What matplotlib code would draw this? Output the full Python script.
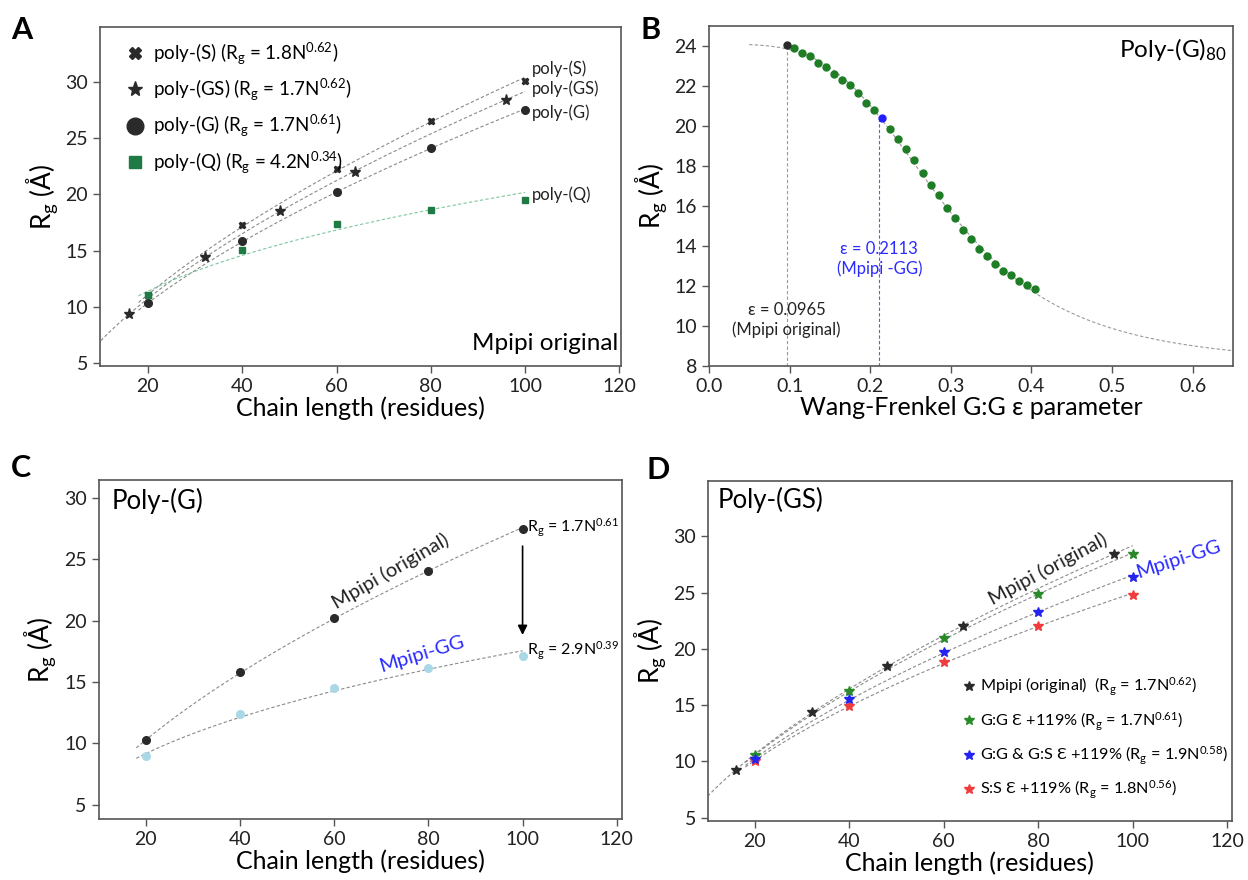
import matplotlib
matplotlib.use("Agg")
import matplotlib.pyplot as plt
import numpy as np

plt.rcParams['font.family'] = ['Lato', 'DejaVu Sans']
plt.rcParams['mathtext.fontset'] = 'custom'
plt.rcParams['mathtext.rm'] = 'Lato'
plt.rcParams['mathtext.it'] = 'Lato:italic'
plt.rcParams['mathtext.bf'] = 'Lato:bold'

# ---- data ----
# panel A
s_n = [20, 40, 60, 80, 100]
s_rg = [11.0, 17.25, 22.24, 26.52, 30.15]
gs_n = [16, 32, 48, 64, 96]
gs_rg = [9.3, 14.42, 18.56, 22.03, 28.42]
g_n = [20, 40, 60, 80, 100]
g_rg = [10.29, 15.85, 20.25, 24.11, 27.53]
q_n = [20, 40, 60, 80, 100]
q_rg = [11.06, 15.05, 17.37, 18.61, 19.5]

# panel B
eps_orig = 0.0965
eps_gg = 0.2113
b_orig_x = [0.0965]
b_orig_y = [24.08]
b_gg_x = [0.215]
b_gg_y = [20.41]
b_eps = [0.105, 0.115, 0.125, 0.135, 0.145, 0.155, 0.165, 0.175, 0.185, 0.195, 0.205,
         0.225, 0.235, 0.245, 0.255, 0.265, 0.275, 0.285, 0.295, 0.305, 0.315, 0.325,
         0.335, 0.345, 0.355, 0.365, 0.375, 0.385, 0.395, 0.405]
b_rg = [23.92, 23.68, 23.50, 23.15, 22.97, 22.60, 22.33, 22.05, 21.65, 21.15, 20.80,
        19.86, 19.34, 18.86, 18.29, 17.68, 17.06, 16.54, 15.93, 15.39, 14.82,
        14.37, 13.87, 13.52, 13.12, 12.74, 12.54, 12.27, 12.04, 11.84]

# panel C
c_n = [20, 40, 60, 80, 100]
c_orig = [10.23, 15.78, 20.22, 24.06, 27.49]
c_gg = [8.98, 12.38, 14.53, 16.11, 17.09]

# panel D
d_orig_n = [16, 32, 48, 64, 96]
d_orig = [9.24, 14.36, 18.51, 22.0, 28.4]
d_n = [20, 40, 60, 80, 100]
d_gg = [10.54, 16.26, 20.97, 24.85, 28.40]
d_gggs = [10.21, 15.57, 19.75, 23.28, 26.39]
d_ss = [10.05, 14.92, 18.86, 22.0, 24.82]

DARK = '#2a2a2a'
GREEN = '#1f7a45'
LINE = '#8a8a8a'
DASH = (0, (3, 2))
RG = r'R$\mathregular{_g}$ (Å)'


def fit_power(n, rg):
    b, loga = np.polyfit(np.log(n), np.log(rg), 1)
    return np.exp(loga), b


def fit_line(ax, n, rg, x0, x1, color=LINE):
    a, b = fit_power(n, rg)
    xs = np.linspace(x0, x1, 200)
    ax.plot(xs, a * xs ** b, ls=DASH, lw=0.8, color=color, zorder=1)


def style(ax):
    for sp in ax.spines.values():
        sp.set_color('#555555')
        sp.set_linewidth(1.2)
    ax.tick_params(direction='out', length=5, width=1, color='#555555',
                   labelsize=14, labelcolor='#222222')


fig = plt.figure(figsize=(12.48, 8.8), dpi=100)
axA = fig.add_axes([0.080, 0.584, 0.4175, 0.385])
axB = fig.add_axes([0.568, 0.584, 0.420, 0.386])
axC = fig.add_axes([0.079, 0.069, 0.419, 0.386])
axD = fig.add_axes([0.567, 0.067, 0.420, 0.386])

# ---- A ----
fit_line(axA, s_n, s_rg, 18, 100)
fit_line(axA, gs_n, gs_rg, 10, 100)
fit_line(axA, g_n, g_rg, 18, 100)
fit_line(axA, q_n, q_rg, 18, 100, color='#7fc7a0')
axA.plot(s_n, s_rg, 'X', ms=5, color=DARK, ls='none', label=r'poly-(S) (R$\mathregular{_g}$ = 1.8N$\mathregular{^{0.62}}$)')
axA.plot(gs_n, gs_rg, '*', ms=8, color=DARK, ls='none', label=r'poly-(GS) (R$\mathregular{_g}$ = 1.7N$\mathregular{^{0.62}}$)')
axA.plot(g_n, g_rg, 'o', ms=5.5, color=DARK, ls='none', label=r'poly-(G) (R$\mathregular{_g}$ = 1.7N$\mathregular{^{0.61}}$)')
axA.plot(q_n, q_rg, 's', ms=5, color=GREEN, ls='none', label=r'poly-(Q) (R$\mathregular{_g}$ = 4.2N$\mathregular{^{0.34}}$)')
legA = axA.legend(loc='upper left', bbox_to_anchor=(0.02, 1.0), frameon=False, fontsize=13.5,
                  handletextpad=0.4, labelspacing=0.55, borderaxespad=0.3, handlelength=1.2)
for hnd, ms in zip(legA.legend_handles, [8, 11, 12, 8.5]):
    hnd.set_markersize(ms)
for txt, yv in [('poly-(S)', 31.25), ('poly-(GS)', 29.4), ('poly-(G)', 27.3), ('poly-(Q)', 19.95)]:
    axA.text(101.5, yv, txt, fontsize=12, va='center', ha='left', color='#222222')
axA.text(0.995, 0.035, 'Mpipi original', transform=axA.transAxes, ha='right', va='bottom', fontsize=17.5)
axA.set_xlim(9.8, 120.3)
axA.set_ylim(4.7, 34.9)
axA.set_xticks([20, 40, 60, 80, 100, 120])
axA.set_yticks([5, 10, 15, 20, 25, 30])
axA.set_xlabel('Chain length (residues)', fontsize=18, labelpad=1)
axA.set_ylabel(RG, fontsize=19, labelpad=4)
style(axA)

# ---- B ----
all_x = np.array(b_orig_x + b_eps + b_gg_x)
all_y = np.array(b_orig_y + b_rg + b_gg_y)
best = None
for c in np.linspace(0.2, 0.4, 81):
    for p in np.linspace(1.5, 10, 86):
        f = 1.0 / (1.0 + (all_x / c) ** p)
        A = np.vstack([np.ones_like(f), f]).T
        coef = np.linalg.lstsq(A, all_y, rcond=None)[0]
        err = np.sum((A @ coef - all_y) ** 2)
        if best is None or err < best[0]:
            best = (err, c, p, coef)
_, bc, bp, bcoef = best
xs = np.linspace(0.05, 0.65, 300)
axB.plot(xs, bcoef[0] + bcoef[1] / (1 + (xs / bc) ** bp), ls=DASH, lw=0.8, color='#999999', zorder=1)
axB.plot([eps_orig, eps_orig], [8, b_orig_y[0]], ls=DASH, lw=0.8, color='#9a9a9a', zorder=1)
axB.plot([eps_gg, eps_gg], [8, 20.5], ls=DASH, lw=0.8, color='#5a5aff', zorder=1)
axB.plot(b_eps, b_rg, 'o', ms=5, color='#1e7d25', ls='none', zorder=3)
axB.plot(b_orig_x, b_orig_y, 'o', ms=5, color=DARK, ls='none', zorder=3)
axB.plot(b_gg_x, b_gg_y, 'o', ms=5, color='#2020ff', ls='none', zorder=3)
axB.text(eps_orig, 10.3, 'ε = 0.0965\n(Mpipi original)', ha='center', va='center', fontsize=12,
         color='#222222', linespacing=1.3)
axB.text(eps_gg, 13.35, 'ε = 0.2113\n(Mpipi -GG)', ha='center', va='center', fontsize=12,
         color='#2b2bff', linespacing=1.3)
axB.text(0.988, 0.972, r'Poly-(G)$\mathregular{_{80}}$', transform=axB.transAxes, ha='right', va='top', fontsize=17.5)
axB.set_xlim(0, 0.65)
axB.set_ylim(8, 25)
axB.set_xticks([0.0, 0.1, 0.2, 0.3, 0.4, 0.5, 0.6])
axB.set_yticks([8, 10, 12, 14, 16, 18, 20, 22, 24])
axB.set_xlabel('Wang-Frenkel G:G ε parameter', fontsize=18, labelpad=1)
axB.set_ylabel(RG, fontsize=19, labelpad=4)
style(axB)

# ---- C ----
fit_line(axC, c_n, c_orig, 18, 100)
fit_line(axC, c_n, c_gg, 18, 100)
axC.plot(c_n, c_orig, 'o', ms=5.5, color=DARK, ls='none', zorder=3)
axC.plot(c_n, c_gg, 'o', ms=5.5, color='#aad8e6', ls='none', zorder=3)
axC.annotate('', xy=(100, 18.6), xytext=(100, 26.3),
             arrowprops=dict(arrowstyle='-|>', color='black', lw=1.2, mutation_scale=14))
axC.text(101.0, 27.6, r'R$\mathregular{_g}$ = 1.7N$\mathregular{^{0.61}}$', fontsize=11.5, va='center')
axC.text(101.0, 17.5, r'R$\mathregular{_g}$ = 2.9N$\mathregular{^{0.39}}$', fontsize=11.5, va='center')
axC.text(72, 24.0, 'Mpipi (original)', rotation=30, ha='center', va='center', fontsize=14.5,
         color='#222222', rotation_mode='anchor')
axC.text(78.5, 17.3, 'Mpipi-GG', rotation=17, ha='center', va='center', fontsize=14.5,
         color='#2b2bff', rotation_mode='anchor')
axC.text(0.025, 0.975, 'Poly-(G)', transform=axC.transAxes, ha='left', va='top', fontsize=18.5)
axC.set_xlim(10, 121)
axC.set_ylim(3.8, 31.5)
axC.set_xticks([20, 40, 60, 80, 100, 120])
axC.set_yticks([5, 10, 15, 20, 25, 30])
axC.set_xlabel('Chain length (residues)', fontsize=18, labelpad=1)
axC.set_ylabel(RG, fontsize=19, labelpad=4)
style(axC)

# ---- D ----
fit_line(axD, d_orig_n, d_orig, 10, 100)
fit_line(axD, d_n, d_gg, 18, 100)
fit_line(axD, d_n, d_gggs, 18, 100)
fit_line(axD, d_n, d_ss, 18, 100)
axD.plot(d_n, d_ss, '*', ms=7.5, color='#f03c3c', ls='none', zorder=3,
         label=r'S:S Ɛ +119% (R$\mathregular{_g}$ = 1.8N$\mathregular{^{0.56}}$)')
axD.plot(d_n, d_gggs, '*', ms=7.5, color='#2424f0', ls='none', zorder=4,
         label=r'G:G & G:S Ɛ +119% (R$\mathregular{_g}$ = 1.9N$\mathregular{^{0.58}}$)')
axD.plot(d_n, d_gg, '*', ms=7.5, color='#2a8a2a', ls='none', zorder=3,
         label=r'G:G Ɛ +119% (R$\mathregular{_g}$ = 1.7N$\mathregular{^{0.61}}$)')
axD.plot(d_orig_n, d_orig, '*', ms=7.5, color=DARK, ls='none', zorder=3,
         label=r'Mpipi (original)  (R$\mathregular{_g}$ = 1.7N$\mathregular{^{0.62}}$)')
h, l = axD.get_legend_handles_labels()
axD.legend(h[::-1], l[::-1], loc='lower left', bbox_to_anchor=(0.455, 0.015), frameon=False,
           fontsize=11.7, handletextpad=0.2, labelspacing=0.75, handlelength=1.0)
axD.text(82, 27.1, 'Mpipi (original)', rotation=28, ha='center', va='center', fontsize=14.5,
         color='#222222', rotation_mode='anchor')
axD.text(101.3, 26.0, 'Mpipi-GG', rotation=18, ha='left', va='bottom', fontsize=14.5,
         color='#2b2bff', rotation_mode='anchor')
axD.text(0.019, 0.985, 'Poly-(GS)', transform=axD.transAxes, ha='left', va='top', fontsize=18.5)
axD.set_xlim(10, 121)
axD.set_ylim(4.7, 34.9)
axD.set_xticks([20, 40, 60, 80, 100, 120])
axD.set_yticks([5, 10, 15, 20, 25, 30])
axD.set_xlabel('Chain length (residues)', fontsize=18, labelpad=1)
axD.set_ylabel(RG, fontsize=19, labelpad=4)
style(axD)

# panel letters
for lab, x, y in [('A', 0.009, 0.982), ('B', 0.513, 0.982), ('C', 0.009, 0.484), ('D', 0.518, 0.482)]:
    fig.text(x, y, lab, fontsize=22, fontweight='bold', ha='left', va='top')

fig.savefig('out.png', dpi=100)
